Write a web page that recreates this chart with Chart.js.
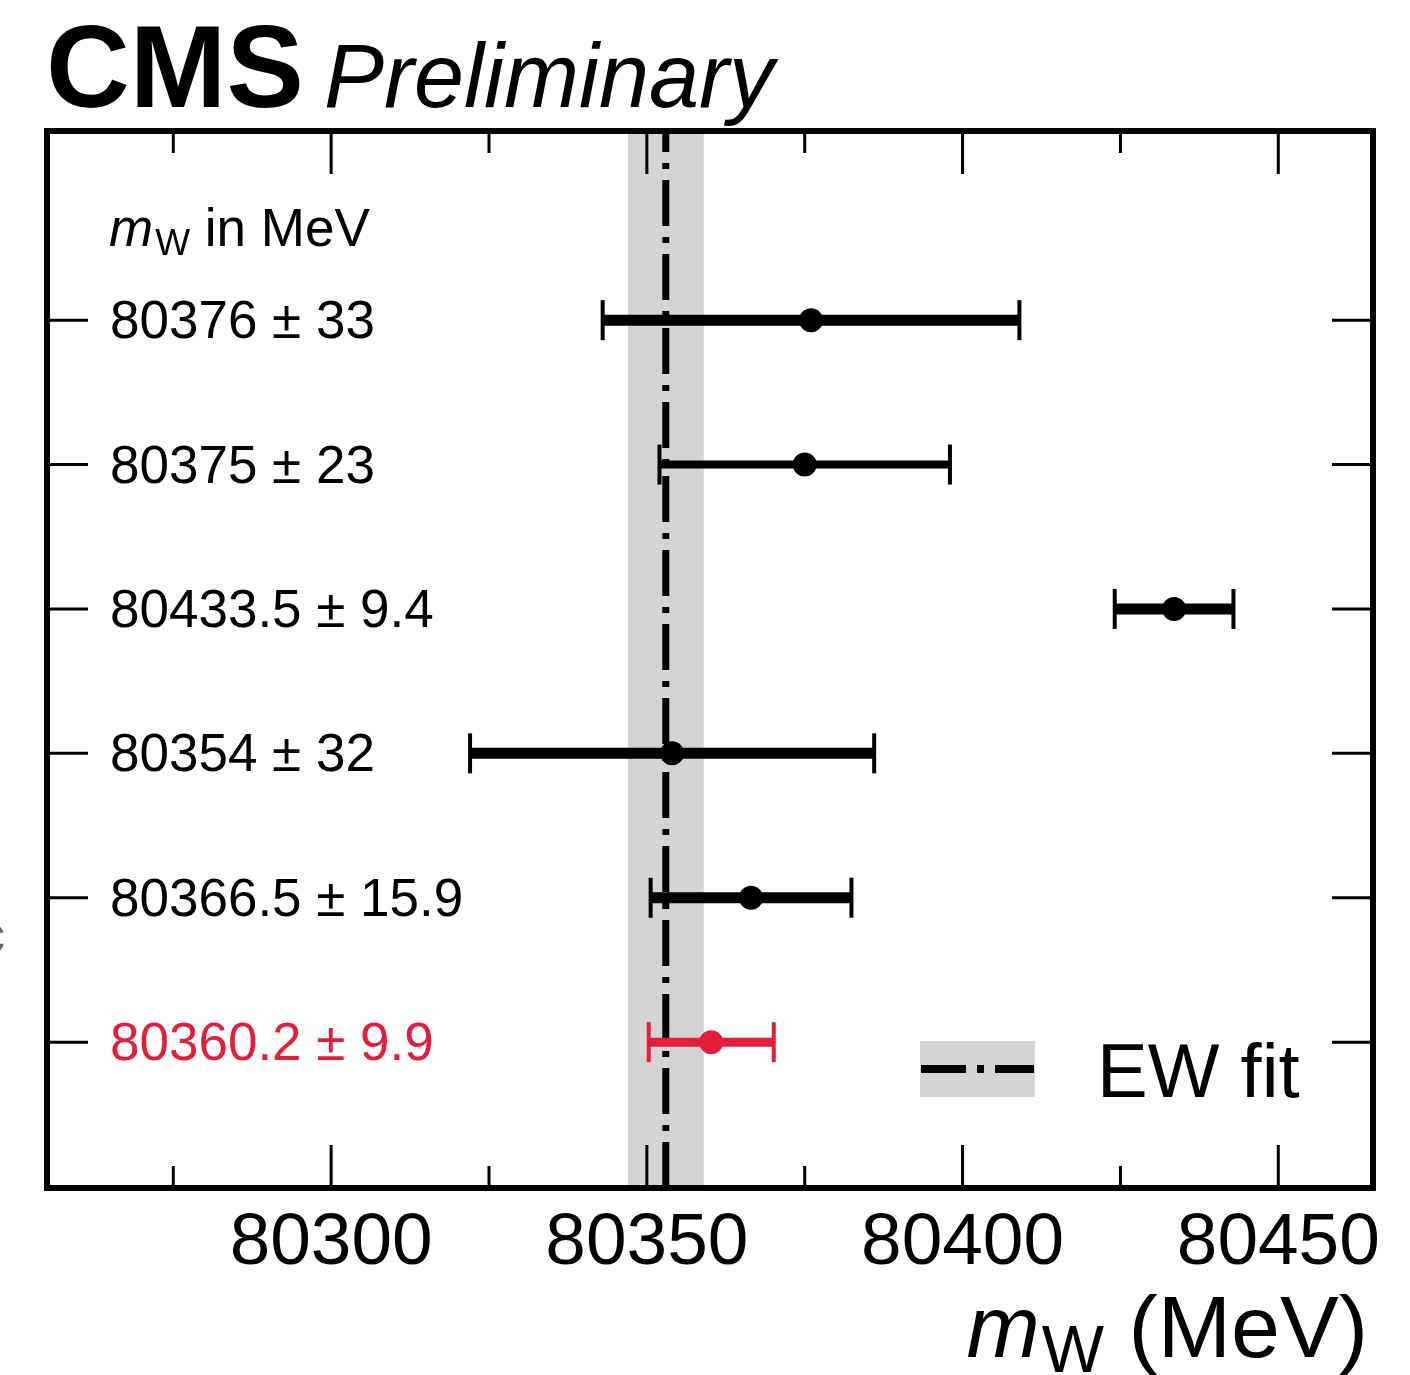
<!DOCTYPE html>
<html lang="en">
<head>
    <meta charset="UTF-8" />
    <title>CMS Preliminary - W mass</title>
    <style>
        body {
            margin: 0;
            background: #ffffff;
        }

        canvas {
            display: block;
        }
    </style>
    <script src="https://cdn.jsdelivr.net/npm/chart.js"></script>
</head>
<body>
    <canvas id="mwChart" width="1410" height="1375"></canvas>

    <script>
        // measurements, top row first
        const rowLabels = ["80376 ± 33", "80375 ± 23", "80433.5 ± 9.4", "80354 ± 32", "80366.5 ± 15.9", "80360.2 ± 9.9"];
        const mwValues = [80376, 80375, 80433.5, 80354, 80366.5, 80360.2];
        const mwErrors = [33, 23, 9.4, 32, 15.9, 9.9];
        const rowPositions = [5, 4, 3, 2, 1, 0];
        const rowColors = ["#000000", "#000000", "#000000", "#000000", "#000000", "#e41e3a"];
        const barWidths = [11, 8, 11, 11, 11, 9];

        // electroweak fit
        const ewFit = 80353;
        const ewFitError = 6;

        const majorTicks = [80300, 80350, 80400, 80450];
        const minorTicks = [80275, 80325, 80375, 80425];

        const xMin = 80255, xMax = 80465;
        const yMin = -1.01, yMax = 6.31;

        const FONT = '"Liberation Sans", Arial, sans-serif';

        const errorBarSets = mwValues.map((v, i) => ({
            type: "line",
            data: [{ x: v - mwErrors[i], y: rowPositions[i] }, { x: v + mwErrors[i], y: rowPositions[i] }],
            borderColor: rowColors[i],
            borderWidth: barWidths[i],
            pointStyle: "line",
            rotation: 90,
            pointRadius: 20,
            pointBorderWidth: 4,
            pointBorderColor: rowColors[i],
            order: 1,
        }));

        const bandPlugin = {
            id: "ewBand",
            beforeDatasetsDraw(chart) {
                const { ctx, chartArea: a, scales } = chart;
                const x1 = scales.x.getPixelForValue(ewFit - ewFitError);
                const x2 = scales.x.getPixelForValue(ewFit + ewFitError);
                ctx.save();
                ctx.fillStyle = "#d4d4d4";
                ctx.fillRect(x1, a.top, x2 - x1, a.height);
                ctx.restore();
            },
        };

        function drawSubscripted(ctx, x, y, main, sub, size, subSize, rest, align, subDrop) {
            ctx.font = `italic ${size}px ${FONT}`;
            const wMain = ctx.measureText(main).width;
            ctx.font = `${subSize}px ${FONT}`;
            const wSub = ctx.measureText(sub).width;
            ctx.font = `${size}px ${FONT}`;
            const wRest = ctx.measureText(rest).width;
            let start = align === "right" ? x - (wMain + wSub + wRest) : x;
            ctx.textAlign = "left";
            ctx.font = `italic ${size}px ${FONT}`;
            ctx.fillText(main, start, y);
            ctx.font = `${subSize}px ${FONT}`;
            ctx.fillText(sub, start + wMain + 2, y + subDrop);
            ctx.font = `${size}px ${FONT}`;
            ctx.fillText(rest, start + wMain + wSub + 2, y);
        }

        const decorPlugin = {
            id: "decor",
            afterDraw(chart) {
                const { ctx, chartArea: a, scales } = chart;
                const xs = scales.x, ys = scales.y;
                ctx.save();
                ctx.fillStyle = "#000";
                ctx.strokeStyle = "#000";

                // ticks
                ctx.lineWidth = 3;
                ctx.beginPath();
                majorTicks.forEach((t) => {
                    const px = xs.getPixelForValue(t);
                    ctx.moveTo(px, a.top); ctx.lineTo(px, a.top + 43);
                    ctx.moveTo(px, a.bottom); ctx.lineTo(px, a.bottom - 43);
                });
                minorTicks.forEach((t) => {
                    const px = xs.getPixelForValue(t);
                    ctx.moveTo(px, a.top); ctx.lineTo(px, a.top + 22);
                    ctx.moveTo(px, a.bottom); ctx.lineTo(px, a.bottom - 22);
                });
                rowPositions.forEach((r) => {
                    const py = ys.getPixelForValue(r);
                    ctx.moveTo(a.left, py); ctx.lineTo(a.left + 41, py);
                    ctx.moveTo(a.right, py); ctx.lineTo(a.right - 41, py);
                });
                ctx.stroke();

                // frame
                ctx.lineWidth = 6;
                ctx.strokeRect(a.left, a.top, a.right - a.left, a.bottom - a.top);

                // tick labels
                ctx.font = `73px ${FONT}`;
                ctx.textAlign = "center";
                ctx.textBaseline = "alphabetic";
                majorTicks.forEach((t) => {
                    ctx.fillText(String(t), xs.getPixelForValue(t), a.bottom + 76);
                });

                // row labels
                ctx.font = `53px ${FONT}`;
                ctx.textAlign = "left";
                rowLabels.forEach((txt, i) => {
                    ctx.fillStyle = rowColors[i];
                    ctx.fillText(txt, a.left + 63, ys.getPixelForValue(rowPositions[i]) + 18);
                });
                ctx.fillStyle = "#000";
                drawSubscripted(ctx, a.left + 62, 246, "m", "W", 53, 37, " in MeV", "left", 9);

                // axis title
                drawSubscripted(ctx, 1366, 1357, "m", "W", 88, 66, " (MeV)", "right", 15);

                // CMS Preliminary
                ctx.textAlign = "left";
                ctx.font = `bold 116px ${FONT}`;
                ctx.fillText("CMS", 46, 107);
                ctx.font = `italic 90px ${FONT}`;
                ctx.fillText("Preliminary", 324, 107);

                // legend
                ctx.fillStyle = "#d4d4d4";
                ctx.fillRect(920, 1041, 115, 56);
                ctx.strokeStyle = "#000";
                ctx.lineWidth = 8;
                ctx.setLineDash([45, 11, 7, 11]);
                ctx.beginPath();
                ctx.moveTo(921, 1069);
                ctx.lineTo(1034, 1069);
                ctx.stroke();
                ctx.setLineDash([]);
                ctx.fillStyle = "#000";
                ctx.font = `76px ${FONT}`;
                ctx.fillText("EW fit", 1097, 1097);

                // clipped label at the left edge
                ctx.fillStyle = "#666";
                ctx.font = `52px ${FONT}`;
                ctx.fillText("c", -21, 952);

                ctx.restore();
            },
        };

        new Chart(document.getElementById("mwChart").getContext("2d"), {
            type: "scatter",
            data: {
                datasets: [
                    {
                        label: "measurements",
                        data: mwValues.map((v, i) => ({ x: v, y: rowPositions[i] })),
                        pointRadius: 12,
                        pointBackgroundColor: rowColors,
                        pointBorderColor: rowColors,
                        pointBorderWidth: 0,
                        order: 0,
                    },
                    ...errorBarSets,
                    {
                        label: "EW fit",
                        type: "line",
                        data: [{ x: ewFit, y: yMax }, { x: ewFit, y: yMin }],
                        borderColor: "#000",
                        borderWidth: 7,
                        borderDash: [46, 11, 6, 11],
                        borderDashOffset: 25,
                        pointRadius: 0,
                        order: 2,
                    },
                ],
            },
            options: {
                responsive: false,
                animation: false,
                devicePixelRatio: 1,
                layout: { padding: { left: 47, right: 37, top: 131, bottom: 187 } },
                plugins: {
                    legend: { display: false },
                    tooltip: { enabled: false },
                },
                scales: {
                    x: { type: "linear", min: xMin, max: xMax, display: false },
                    y: { type: "linear", min: yMin, max: yMax, display: false },
                },
            },
            plugins: [bandPlugin, decorPlugin],
        });
    </script>
</body>
</html>
